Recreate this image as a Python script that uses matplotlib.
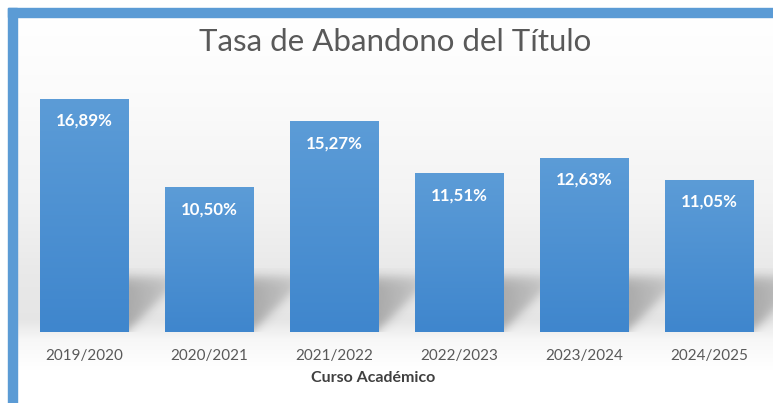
import numpy as np
import matplotlib.pyplot as plt
from matplotlib.patches import Rectangle
from matplotlib.colors import LinearSegmentedColormap

# datos
cursos = ["2019/2020", "2020/2021", "2021/2022", "2022/2023", "2023/2024", "2024/2025"]
tasa = [16.89, 10.50, 15.27, 11.51, 12.63, 11.05]
etiquetas = ["16,89%", "10,50%", "15,27%", "11,51%", "12,63%", "11,05%"]

W, H = 773, 403
plt.rcParams["font.family"] = ["Lato", "DejaVu Sans"]
fig = plt.figure(figsize=(W / 100, H / 100), dpi=100)

# fondo con degradado gris suave
bg = fig.add_axes([17 / W, 0, 1 - 17 / W, 1 - 17 / H], zorder=0)
filas = np.linspace(17, H, 400)
v = np.interp(filas, [17, 90, 200, 270, 320, 340, 370, 403],
              [1.0, 0.985, 0.955, 0.915, 0.9, 0.97, 1.0, 1.0])
img = np.repeat(v[:, None], 4, axis=1)
bg.imshow(np.dstack([img] * 3), aspect="auto", extent=(0, 1, 0, 1))
bg.axis("off")

# marco azul (arriba e izquierda)
azul = "#5b9bd5"
fig.patches.append(Rectangle((8 / W, 0), 9 / W, (H - 8) / H,
                             transform=fig.transFigure, color=azul, zorder=5))
fig.patches.append(Rectangle((8 / W, 1 - 17 / H), 1 - 8 / W, 9 / H,
                             transform=fig.transFigure, color=azul, zorder=5))

ax = fig.add_axes([22 / W, (H - 332) / H, 750 / W, 248.4 / H], zorder=1)
ax.patch.set_alpha(0)

x = np.arange(len(cursos))
ancho = 0.71
bars = ax.bar(x, tasa, width=ancho, color="#4b91d3", zorder=3)

# degradado de las barras
cmap = LinearSegmentedColormap.from_list("azules", ["#5c9cd7", "#3f86cd"])
grad = np.linspace(0, 1, 200)[:, None]
for b in bars:
    im = ax.imshow(grad, cmap=cmap, aspect="auto", zorder=3.5,
                   extent=(b.get_x(), b.get_x() + b.get_width(), 0, b.get_height()))
    im.set_clip_path(b)

# sombra a la derecha de cada barra
px_x = 125.0   # px por unidad en x
px_y = 13.8    # px por unidad en y
hueco = 1 - ancho
xs = np.linspace(0, hueco * px_x, 60)
ys = np.linspace(0, 4.6 * px_y, 80)[::-1]
XX, YY = np.meshgrid(xs, ys)
alpha = (0.26 / (1 + np.exp(-(55 - YY) / 3.5))
         / (1 + np.exp(-(YY - 2 - XX * 1.0) / 4))
         * (1 - 0.35 * XX / (hueco * px_x)))
sombra = np.zeros((len(ys), len(xs), 4))
sombra[..., 3] = alpha
for b in bars:
    x0 = b.get_x() + b.get_width()
    ax.imshow(sombra, aspect="auto", zorder=2,
              extent=(x0, x0 + hueco, 0, 4.6))

for b, txt in zip(bars, etiquetas):
    ax.text(b.get_x() + b.get_width() / 2, b.get_height() - 1.6, txt,
            ha="center", va="center", color="white", fontsize=12.2,
            fontweight="bold", zorder=4)

ax.set_xlim(-0.5, 5.5)
ax.set_ylim(0, 18)
ax.set_xticks(x, cursos)
ax.set_yticks([])
ax.tick_params(axis="x", length=0, labelsize=11, labelcolor="#595959", pad=12.5)
for s in ax.spines.values():
    s.set_visible(False)

ax.set_xlabel("Curso Académico", fontsize=11.5, fontweight="bold", color="#404040")
ax.xaxis.set_label_coords((373 - 22) / 750, -39 / 248.4)

fig.text(395 / W, 1 - 42 / H, "Tasa de Abandono del Título", ha="center",
         va="center", fontsize=22.5, color="#595959")

fig.savefig("out.png", dpi=100)
